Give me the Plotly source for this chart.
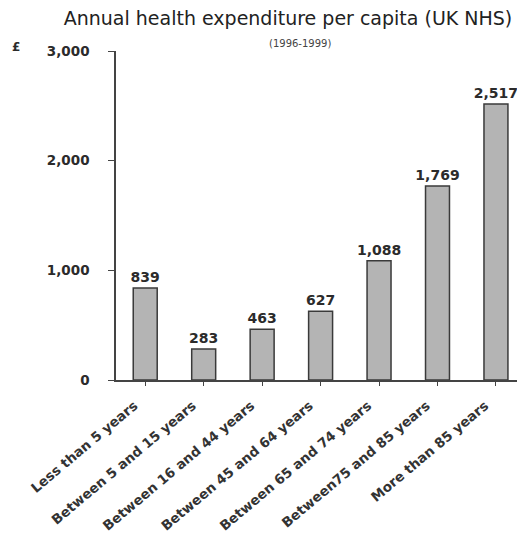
import plotly.graph_objects as go

# Age bands and annual spend per head (GBP)
age_bands = [
    "Less than 5 years",
    "Between 5 and 15 years",
    "Between 16 and 44 years",
    "Between 45 and 64 years",
    "Between 65 and 74 years",
    "Between75 and 85 years",
    "More than 85 years",
]
spend = [839, 283, 463, 627, 1088, 1769, 2517]
y_ticks = [0, 1000, 2000, 3000]
y_tick_text = ["0", "1,000", "2,000", "3,000"]

FONT = "DejaVu Sans"
DARK = "#2b2b2b"

W, H = 517, 542
L, R, T, B = 116, 0, 51, 162


def px_x(px):
    return (px - L) / (W - L - R)


def px_y(py):
    return (H - B - py) / (H - B - T)


fig = go.Figure(
    go.Bar(
        x=list(range(len(age_bands))),
        y=spend,
        marker=dict(color="#b4b4b4", line=dict(color="#3a3a3a", width=1.5)),
        text=[f"{v:,}" for v in spend],
        textposition="outside",
        constraintext="none",
        cliponaxis=False,
        textfont=dict(family=FONT, size=14, color=DARK, weight="bold"),
        width=0.41,
    )
)

fig.update_layout(
    width=W,
    height=H,
    margin=dict(l=L, r=R, t=T, b=B),
    paper_bgcolor="white",
    plot_bgcolor="white",
    showlegend=False,
    title=dict(
        text="Annual health expenditure per capita (UK NHS)",
        font=dict(family=FONT, size=19, color="#222222"),
        xref="container",
        yref="container",
        x=288 / W,
        xanchor="center",
        y=1 - 18 / H,
        yanchor="middle",
    ),
    annotations=[
        dict(
            text="(1996-1999)",
            xref="paper", yref="paper",
            x=px_x(300), y=px_y(43),
            xanchor="center", yanchor="middle",
            showarrow=False,
            font=dict(family=FONT, size=10, color="#444444"),
        ),
        dict(
            text="£",
            xref="paper", yref="paper",
            x=px_x(16), y=px_y(47),
            xanchor="center", yanchor="middle",
            showarrow=False,
            font=dict(family=FONT, size=12, color=DARK, weight="bold"),
        ),
    ],
    xaxis=dict(
        range=[-0.5, 6.36],
        tickmode="array",
        tickvals=list(range(len(age_bands))),
        ticktext=age_bands,
        tickangle=-40,
        tickson="boundaries",
        ticks="outside",
        ticklen=4,
        tickcolor="#444444",
        ticklabelshift=-11,
        ticklabelstandoff=7,
        showline=True,
        linecolor="#444444",
        linewidth=1.5,
        showgrid=False,
        zeroline=False,
        tickfont=dict(family=FONT, size=13.5, color="#333333", weight="bold"),
    ),
    yaxis=dict(
        range=[0, 3000],
        tickmode="array",
        tickvals=y_ticks,
        ticktext=y_tick_text,
        ticks="outside",
        ticklen=6,
        tickcolor="#444444",
        ticklabelstandoff=16,
        showline=True,
        linecolor="#444444",
        linewidth=1.5,
        showgrid=False,
        zeroline=False,
        tickfont=dict(family=FONT, size=13.5, color=DARK, weight="bold"),
    ),
)

fig.write_html("out.html")
